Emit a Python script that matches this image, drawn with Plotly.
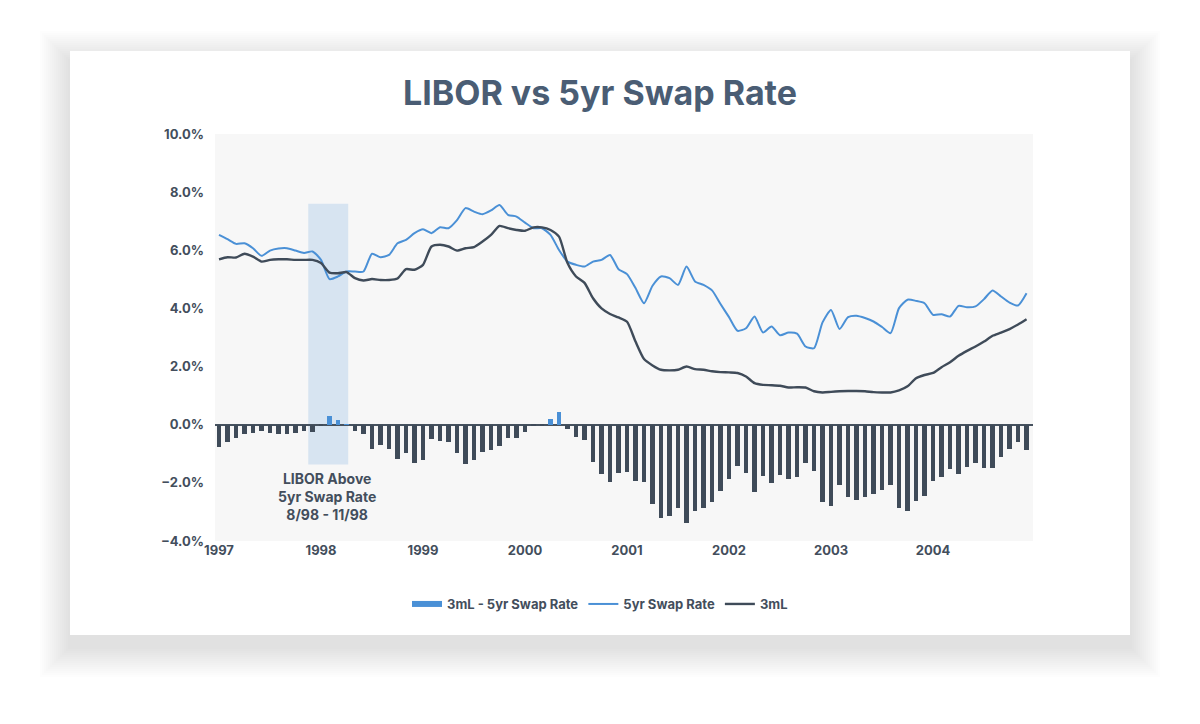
import plotly.graph_objects as go

# monthly points, first one sits under the "1997" label
year_labels = ["1997", "1998", "1999", "2000", "2001", "2002", "2003", "2004"]

# 3mL minus 5yr swap rate (%)
spread = [
    -0.78, -0.60, -0.44, -0.32, -0.30, -0.21, -0.30, -0.32, -0.33, -0.28, -0.22, -0.25,
    -0.02, 0.30, 0.17, 0.01, -0.23, -0.33, -0.82, -0.71, -0.82, -1.17, -0.97, -1.32,
    -1.20, -0.49, -0.56, -0.61, -0.97, -1.34, -1.20, -0.94, -0.86, -0.72, -0.46, -0.46,
    -0.26, -0.02, -0.01, 0.21, 0.44, -0.15, -0.42, -0.52, -1.27, -1.68, -1.97, -1.65,
    -1.64, -1.95, -1.97, -2.71, -3.21, -3.13, -2.86, -3.38, -2.98, -2.86, -2.67, -2.27,
    -1.86, -1.41, -1.65, -2.31, -1.75, -2.02, -1.72, -1.86, -1.79, -1.31, -1.59, -2.67,
    -2.78, -2.08, -2.50, -2.58, -2.50, -2.38, -2.23, -2.06, -2.86, -2.98, -2.63, -2.46,
    -1.95, -1.79, -1.52, -1.68, -1.44, -1.31, -1.49, -1.49, -1.11, -0.82, -0.60, -0.86,
]

swap_5yr = [
    6.53, 6.38, 6.22, 6.24, 6.07, 5.81, 5.99, 6.06, 6.07, 5.99, 5.91, 5.96,
    5.67, 5.01, 5.10, 5.27, 5.27, 5.27, 5.88, 5.76, 5.84, 6.24, 6.36, 6.59,
    6.72, 6.59, 6.79, 6.76, 7.04, 7.45, 7.33, 7.24, 7.37, 7.56, 7.22, 7.16,
    6.95, 6.76, 6.76, 6.53, 6.01, 5.61, 5.50, 5.44, 5.61, 5.67, 5.84, 5.35,
    5.18, 4.70, 4.18, 4.78, 5.10, 5.04, 4.81, 5.44, 4.93, 4.81, 4.62, 4.15,
    3.70, 3.23, 3.32, 3.72, 3.17, 3.38, 3.08, 3.17, 3.13, 2.69, 2.63, 3.52,
    3.95, 3.29, 3.70, 3.75, 3.67, 3.55, 3.36, 3.15, 4.01, 4.30, 4.26, 4.18,
    3.78, 3.80, 3.72, 4.09, 4.04, 4.07, 4.32, 4.62, 4.41, 4.20, 4.10, 4.52,
]

libor_3m = [
    5.69, 5.76, 5.75, 5.88, 5.78, 5.61, 5.67, 5.69, 5.69, 5.67, 5.67, 5.67,
    5.56, 5.23, 5.21, 5.25, 5.04, 4.96, 5.01, 4.98, 4.98, 5.03, 5.35, 5.33,
    5.50, 6.13, 6.19, 6.13, 5.99, 6.07, 6.11, 6.30, 6.53, 6.84, 6.76, 6.70,
    6.67, 6.79, 6.79, 6.70, 6.47, 5.56, 5.10, 4.88, 4.35, 4.00, 3.81, 3.69,
    3.54, 2.86, 2.26, 2.04, 1.89, 1.87, 1.89, 2.00, 1.91, 1.89, 1.84, 1.81,
    1.80, 1.78, 1.66, 1.43, 1.37, 1.36, 1.34, 1.28, 1.29, 1.28, 1.15, 1.11,
    1.13, 1.15, 1.16, 1.16, 1.15, 1.12, 1.11, 1.11, 1.18, 1.32, 1.60, 1.71,
    1.78, 1.98, 2.15, 2.37, 2.54, 2.69, 2.86, 3.06, 3.17, 3.29, 3.45, 3.63,
]

months = list(range(len(spread)))
year_ticks = months[::12][:len(year_labels)]

# shaded window where LIBOR sat above the swap rate
highlight_x = (10.5, 15.2)
highlight_y = (-1.37, 7.6)
note_text = "LIBOR Above<br>5yr Swap Rate<br>8/98 - 11/98"

BLUE = "#4a90d6"
DARK = "#3f4b59"
TEXT = "#434e5c"
FONT = "Inter, Open Sans, sans-serif"

W, H = 1200, 724
PLOT_L, PLOT_R, PLOT_T, PLOT_B = 215, 1033, 134, 541
CARD = (70, 1130, 51, 635)  # left, right, top, bottom in px


def px_x(px):
    return (px - PLOT_L) / (PLOT_R - PLOT_L)


def px_y(py):
    return (PLOT_B - py) / (PLOT_B - PLOT_T)


bar_colors = [BLUE if v > 0 else DARK for v in spread]

fig = go.Figure()
fig.add_trace(go.Bar(x=months, y=spread, marker_color=bar_colors, marker_line_width=0,
                     width=0.52, name="3mL - 5yr Swap Rate", showlegend=False))
# legend-only entry so the bar swatch is a flat bar like the original
fig.add_trace(go.Scatter(x=[None], y=[None], mode="lines", line=dict(color=BLUE, width=6),
                         name="3mL - 5yr Swap Rate"))
fig.add_trace(go.Scatter(x=months, y=swap_5yr, mode="lines", name="5yr Swap Rate",
                         line=dict(color=BLUE, width=2, shape="spline", smoothing=0.6)))
fig.add_trace(go.Scatter(x=months, y=libor_3m, mode="lines", name="3mL",
                         line=dict(color=DARK, width=2.4, shape="spline", smoothing=0.6)))

shapes = []
# soft card shadow, heavier below the card
cl, cr, ct, cb = CARD
for k in range(1, 16):
    s = 2 * k
    shapes.append(dict(type="rect", xref="paper", yref="paper", layer="below",
                       x0=px_x(cl - s), x1=px_x(cr + s), y0=px_y(cb + 12 + s), y1=px_y(ct + 10 - s),
                       fillcolor="rgba(0,0,0,0.008)", line_width=0))
shapes.append(dict(type="rect", xref="paper", yref="paper", layer="below",
                   x0=px_x(cl), x1=px_x(cr), y0=px_y(cb), y1=px_y(ct),
                   fillcolor="white", line_width=0))
shapes.append(dict(type="rect", xref="paper", yref="paper", layer="below",
                   x0=0, x1=1, y0=0, y1=1, fillcolor="#f7f7f7", line_width=0))
shapes.append(dict(type="rect", xref="x", yref="y", layer="below",
                   x0=highlight_x[0], x1=highlight_x[1], y0=highlight_y[0], y1=highlight_y[1],
                   fillcolor="#d7e4f1", line_width=0))

annotations = [dict(x=sum(highlight_x) / 2 - 0.1, y=-2.48, xref="x", yref="y", text=note_text,
                    showarrow=False, yanchor="middle", xanchor="center", align="center",
                    font=dict(family=FONT, size=14, color=TEXT, weight=700))]

fig.update_layout(
    width=W, height=H,
    margin=dict(l=PLOT_L, r=W - PLOT_R, t=PLOT_T, b=H - PLOT_B),
    paper_bgcolor="white",
    plot_bgcolor="rgba(0,0,0,0)",
    font=dict(family=FONT, color=TEXT, size=13),
    title=dict(text="LIBOR vs 5yr Swap Rate", x=0.5, xanchor="center",
               y=1 - 93 / H, yanchor="middle", yref="container",
               font=dict(family=FONT, size=34, color="#4a5d74", weight=700)),
    shapes=shapes,
    annotations=annotations,
    bargap=0,
    showlegend=True,
    legend=dict(orientation="h", x=0.5, xref="container", xanchor="center",
                y=1 - 604 / H, yref="container", yanchor="middle",
                bgcolor="rgba(0,0,0,0)", font=dict(size=13, color=TEXT, weight=700),
                itemwidth=30),
)
fig.update_xaxes(range=[-0.47, 95.76], tickvals=year_ticks, ticktext=year_labels,
                 showgrid=False, zeroline=False, showline=False, ticks="",
                 tickfont=dict(size=13, color=TEXT, weight=700))
fig.update_yaxes(range=[-4, 10], dtick=2, tickformat=".1f", ticksuffix="%",
                 showgrid=False, zeroline=True, zerolinecolor="#46525f", zerolinewidth=2,
                 showline=False, ticks="", ticklabelstandoff=10,
                 tickfont=dict(size=13, color=TEXT, weight=700))

# the page's default 8px body margin would shift the whole figure
fig.write_html("out.html", config={"displayModeBar": False},
               post_script="document.body.style.margin='0';")
